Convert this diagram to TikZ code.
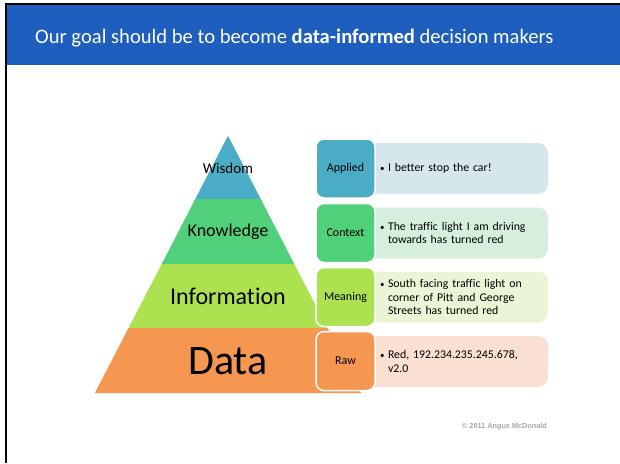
\documentclass[tikz,border=0pt]{standalone}
\usepackage{fontspec}
\setmainfont{Carlito}[Ligatures=NoCommon]
\newfontfamily\creditfont{Liberation Sans}
\usepackage{xcolor}
\usepackage{tikz}
\usetikzlibrary{shapes,fit,calc,positioning}

\definecolor{slideblue}{RGB}{29,94,190}
\definecolor{wisdomcol}{RGB}{75,172,198}
\definecolor{knowcol}{RGB}{80,208,120}
\definecolor{infocol}{RGB}{172,226,80}
\definecolor{datacol}{RGB}{245,151,80}
\definecolor{wisdomlight}{RGB}{213,230,236}
\definecolor{knowlight}{RGB}{214,239,221}
\definecolor{infolight}{RGB}{235,245,214}
\definecolor{datalight}{RGB}{250,223,211}

\newcommand{\notebullet}{\makebox[8pt][l]{\small\textbullet}}
\newcommand{\noteindent}{\hspace*{8pt}}

\begin{document}
\begin{tikzpicture}[
	x=1pt, y=-1pt,
	layer/.style = {draw=white, line width=2pt},
	tag/.style = {shape=rectangle, rounded corners=8pt,
	draw=white, line width=1.5pt,
	minimum width=59pt, minimum height=59pt,
	font=\fontsize{12}{14}\selectfont},
	note/.style = {shape=rectangle, rounded corners=10pt,
	minimum width=180pt, minimum height=51pt,
	text width=156pt, inner xsep=12pt, align=left,
	font=\fontsize{11.8}{13.8}\selectfont}
]
\useasboundingbox (0,0) rectangle (620,463);

% slide frame and title bar
\fill[slideblue] (7,5) rectangle (620,65);
\draw[line width=2.5pt] (6,463) |- (620,4);
\node[anchor=base west, inner sep=0pt, text=white, font=\fontsize{20.6}{24}\selectfont] (title) at (35,43)
	{Our goal should be to become \textbf{data-informed} decision makers};

% pyramid layers
\fill[layer, wisdomcol] (228,138) -- (260.1,200) -- (195.9,200) -- cycle;
\fill[layer, knowcol] (195.9,200) -- (260.1,200) -- (293.7,265) -- (162.3,265) -- cycle;
\fill[layer, infocol] (162.3,265) -- (293.7,265) -- (326.9,329) -- (129.1,329) -- cycle;
\fill[layer, datacol] (129.1,329) -- (326.9,329) -- (359.5,392) -- (96.5,392) -- cycle;

\node[font=\fontsize{15}{17}\selectfont] (wisdom) at (228,168) {Wisdom};
\node[font=\fontsize{18}{20}\selectfont] (knowledge) at (228,232) {Knowledge};
\node[font=\fontsize{24}{26}\selectfont] (information) at (228,296) {Information};
\node[font=\fontsize{42}{44}\selectfont] (data) at (228,361) {Data};

% example boxes
\node[note, fill=wisdomlight] (applied-note) at (458,168.5)
	{\notebullet I better stop the car!};
\node[note, fill=knowlight] (context-note) at (458,233)
	{\notebullet The traffic light I am driving\\
	\noteindent towards has turned red};
\node[note, fill=infolight] (meaning-note) at (458,297)
	{\notebullet South facing traffic light on\\
	\noteindent corner of Pitt and George\\
	\noteindent Streets has turned red};
\node[note, fill=datalight] (raw-note) at (458,361.5)
	{\notebullet Red, 192.234.235.245.678,\\
	\noteindent v2.0};

\node[tag, fill=wisdomcol] (applied) at (345.5,168.5) {Applied};
\node[tag, fill=knowcol] (context) at (345.5,233) {Context};
\node[tag, fill=infocol] (meaning) at (345.5,297) {Meaning};
\node[tag, fill=datacol] (raw) at (345.5,361) {Raw};

\node[text=black!35, font=\creditfont\bfseries\fontsize{7.3}{8}\selectfont] (credit) at (504.5,427)
	{\textcopyright{} 2011 Angus McDonald};
\end{tikzpicture}
\end{document}
